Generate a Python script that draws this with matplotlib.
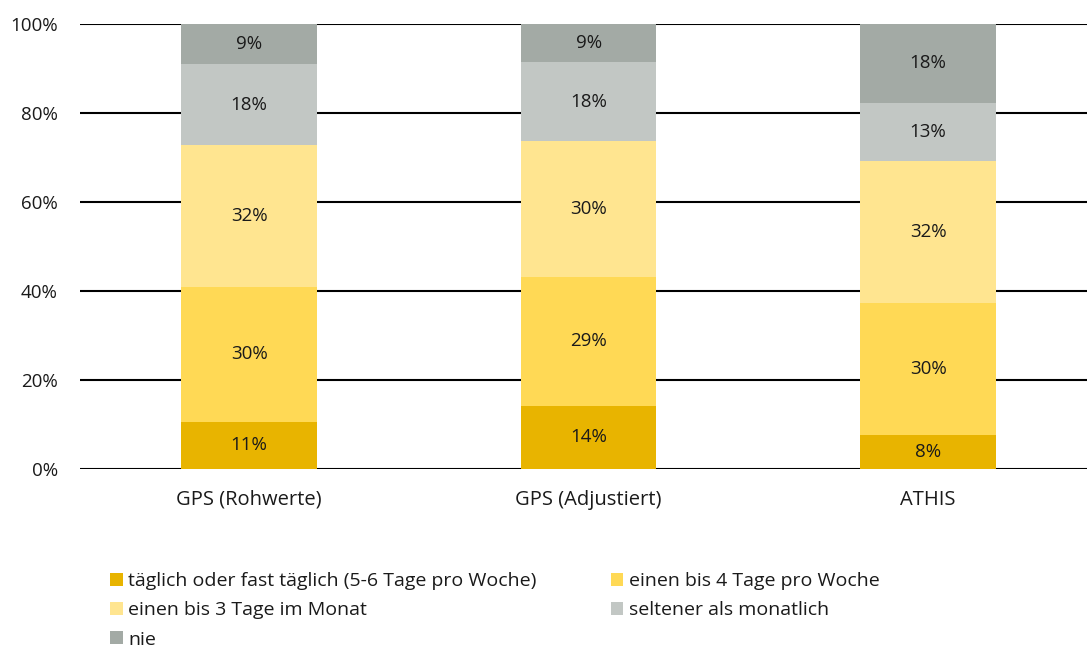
import matplotlib
matplotlib.use("Agg")
import matplotlib.pyplot as plt
import numpy as np

categories = ["GPS (Rohwerte)", "GPS (Adjustiert)", "ATHIS"]
series_names = [
    "täglich oder fast täglich (5-6 Tage pro Woche)",
    "einen bis 4 Tage pro Woche",
    "einen bis 3 Tage im Monat",
    "seltener als monatlich",
    "nie",
]
taeglich = [10.6, 14.2, 7.7]
vier_tage = [30.3, 29.0, 29.7]
drei_tage = [31.8, 30.4, 31.8]
seltener = [18.2, 17.8, 13.1]
nie = [9.1, 8.6, 17.7]
yticks = [0, 20, 40, 60, 80, 100]
ytick_labels = ["0%", "20%", "40%", "60%", "80%", "100%"]

colors = ["#E8B400", "#FFD955", "#FFE590", "#C2C7C4", "#A3AAA5"]
series = [taeglich, vier_tage, drei_tage, seltener, nie]

plt.rcParams["font.family"] = ["Open Sans", "DejaVu Sans"]
fig = plt.figure(figsize=(10.87, 6.47), dpi=100)
ax = fig.add_axes([80 / 1087, 1 - 469 / 647, 1 - 80 / 1087, 445 / 647])

x = np.arange(len(categories))
bottom = np.zeros(len(categories))
handles = []
for vals, col, name in zip(series, colors, series_names):
    vals = np.array(vals)
    b = ax.bar(x, vals, bottom=bottom, width=0.4, color=col, label=name, zorder=3)
    handles.append(b)
    for xi, v, bt in zip(x, vals, bottom):
        ax.text(xi, bt + v / 2, f"{round(v):d}%", ha="center", va="center",
                fontsize=13.5, color="#1a1a1a", zorder=4)
    bottom += vals

ax.set_xlim(-0.498, 2.468)
ax.set_ylim(0, 100)
ax.set_yticks(yticks)
ax.set_yticklabels(ytick_labels, fontsize=13.5, color="#1a1a1a")
ax.set_xticks(x)
ax.set_xticklabels(categories, fontsize=14.5, color="#1a1a1a")
ax.tick_params(axis="y", length=0, pad=16)
ax.tick_params(axis="x", length=0, pad=15)
for s in ax.spines.values():
    s.set_visible(False)
for yv in yticks:
    ax.axhline(yv, color="black", linewidth=1.5, zorder=1)

order = [0, 2, 4, 1, 3]
leg = fig.legend([handles[i] for i in order], [series_names[i] for i in order],
                 ncol=2, loc="upper left", bbox_to_anchor=(110 / 1087, 1 - 572 / 647),
                 frameon=False, fontsize=14, handlelength=0.65, handleheight=0.65,
                 handletextpad=0.3, labelspacing=0.58, columnspacing=3.8,
                 borderaxespad=0, borderpad=0)
for t in leg.get_texts():
    t.set_color("#1a1a1a")

fig.savefig("out.png", dpi=100)
